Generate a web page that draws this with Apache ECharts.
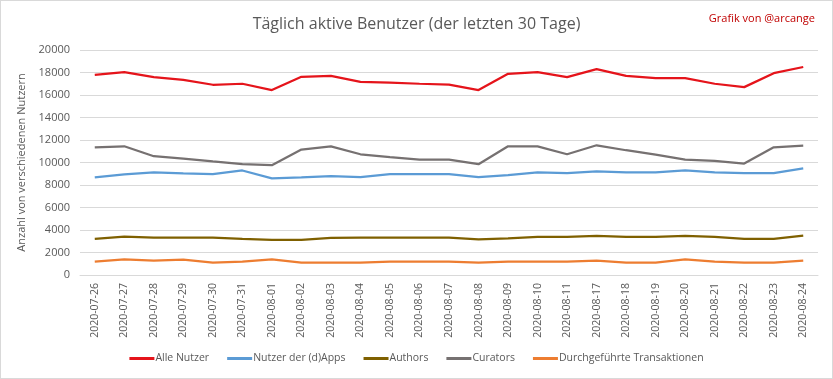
<!DOCTYPE html>
<html><head><meta charset="utf-8">
<script src="https://cdn.jsdelivr.net/npm/echarts@6/dist/echarts.min.js"></script>
<style>html,body{margin:0;padding:0;background:#fff}#c{width:833px;height:379px;box-sizing:border-box;border:1px solid #d9d9d9}</style>
</head><body><div id="c"></div>
<script>
const categories = ["2020-07-26","2020-07-27","2020-07-28","2020-07-29","2020-07-30","2020-07-31","2020-08-01","2020-08-02","2020-08-03","2020-08-04","2020-08-05","2020-08-06","2020-08-07","2020-08-08","2020-08-09","2020-08-10","2020-08-11","2020-08-17","2020-08-18","2020-08-19","2020-08-20","2020-08-21","2020-08-22","2020-08-23","2020-08-24"];
const alleNutzer = [17790,18030,17590,17350,16910,17000,16440,17620,17700,17170,17100,17000,16920,16440,17880,18030,17590,18300,17700,17500,17500,17000,16700,17940,18490];
const dappsNutzer = [8680,8940,9120,9030,8970,9290,8590,8680,8790,8700,8970,8970,8970,8700,8880,9120,9060,9210,9120,9120,9290,9120,9060,9060,9470];
const authors = [3220,3420,3330,3330,3330,3220,3130,3130,3300,3330,3330,3330,3330,3160,3250,3390,3390,3480,3390,3390,3480,3390,3220,3220,3510];
const curators = [11350,11440,10560,10350,10090,9850,9760,11150,11440,10730,10470,10260,10260,9850,11440,11440,10730,11530,11090,10700,10260,10150,9910,11350,11500];
const transaktionen = [1180,1390,1270,1360,1090,1180,1390,1090,1090,1090,1180,1180,1180,1090,1180,1180,1180,1270,1090,1090,1390,1180,1090,1090,1270];
const yTicks = [0,2000,4000,6000,8000,10000,12000,14000,16000,18000,20000];

const font = '"Open Sans", "Liberation Sans", sans-serif';
const chart = echarts.init(document.getElementById('c'));
function s(name, data, color){
  return {name, type:'line', data, symbol:'none', lineStyle:{width:2.25, color}, itemStyle:{color}};
}
chart.setOption({
  animation:false,
  textStyle:{fontFamily:font},
  title:[{text:'Täglich aktive Benutzer (der letzten 30 Tage)', left:'center', top:10,
    textStyle:{fontSize:16, fontWeight:'normal', color:'#595959', fontFamily:font}},
    {text:'Grafik von @arcange', right:12, top:7, textStyle:{fontSize:11, fontWeight:'normal', color:'#c00000', fontFamily:font}}],
  legend:{bottom:9, left:'center', itemWidth:25, itemHeight:3, itemGap:18, icon:'rect',
    textStyle:{fontSize:10.5, color:'#595959', fontFamily:font, padding:[0,0,0,-4]},
    data:['Alle Nutzer','Nutzer der (d)Apps','Authors','Curators','Durchgeführte Transaktionen']},
  grid:{left:79, right:14, top:49, bottom:103},
  xAxis:{type:'category', data:categories, boundaryGap:true,
    axisLine:{lineStyle:{color:'#d9d9d9'}}, axisTick:{show:false},
    axisLabel:{rotate:90, fontSize:10.5, color:'#595959', margin:8, interval:0, fontFamily:font}},
  yAxis:{type:'value', min:yTicks[0], max:yTicks[yTicks.length-1], interval:2000,
    name:'Anzahl von verschiedenen Nutzern', nameLocation:'middle', nameGap:40, nameRotate:90,
    nameTextStyle:{fontSize:11, color:'#595959', fontFamily:font},
    axisLine:{show:false}, axisTick:{show:false},
    axisLabel:{fontSize:11, color:'#595959', margin:10, fontFamily:font, formatter:v=>String(v)},
    splitLine:{lineStyle:{color:'#d9d9d9'}}},
  series:[
    s('Alle Nutzer', alleNutzer, '#e5141b'),
    s('Nutzer der (d)Apps', dappsNutzer, '#5b9bd5'),
    s('Authors', authors, '#7f6000'),
    s('Curators', curators, '#767171'),
    s('Durchgeführte Transaktionen', transaktionen, '#ed7d31')
  ]
});
</script></body></html>
